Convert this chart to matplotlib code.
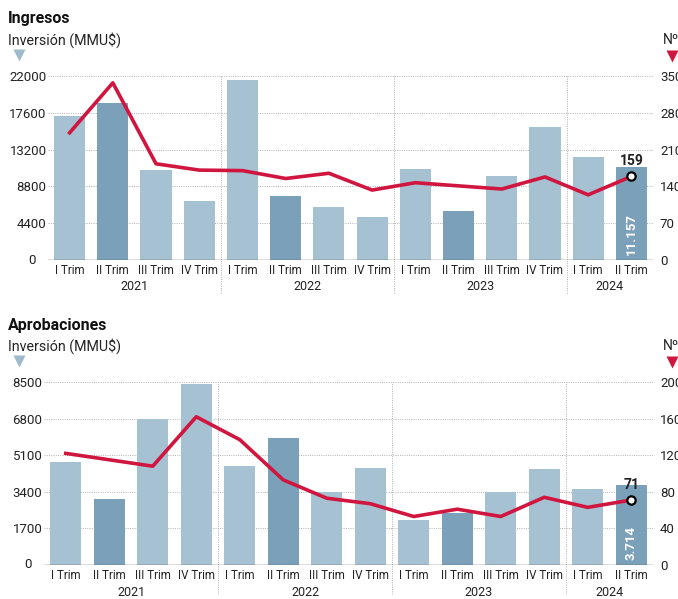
import numpy as np
import matplotlib
matplotlib.use("Agg")
import matplotlib.pyplot as plt
from matplotlib.lines import Line2D

plt.rcParams["font.family"] = ["Roboto", "DejaVu Sans"]

W, H = 678, 599
LIGHT = "#a6c1d1"; DARK = "#7ba0b9"; RED = "#d0163f"; GRID = "#a8a8a8"; TXT = "#222222"

quarters = ["I Trim", "II Trim", "III Trim", "IV Trim"] * 3 + ["I Trim", "II Trim"]
years = ["2021", "2022", "2023", "2024"]
year_centers = [1.5, 5.5, 9.5, 12.5]
year_breaks = [3.5, 7.5, 11.5]

ing_inv = [17200, 18800, 10800, 7000, 21500, 7700, 6300, 5200,
           10900, 5900, 10000, 15900, 12300, 11157]
ing_n = [242, 337, 183, 171, 170, 155, 165, 133, 147, 141, 135, 158, 124, 159]
ing_left_ticks = [0, 4400, 8800, 13200, 17600, 22000]
ing_right_ticks = [0, 70, 140, 210, 280, 350]

apr_inv = [4800, 3050, 6800, 8400, 4600, 5900, 3400, 4500,
           2100, 2400, 3400, 4450, 3550, 3714]
apr_n = [122, 115, 108, 162, 137, 93, 73, 67, 53, 61, 53, 74, 63, 71]
apr_left_ticks = [0, 1700, 3400, 5100, 6800, 8500]
apr_right_ticks = [0, 40, 80, 120, 160, 200]

fig = plt.figure(figsize=(W / 100, H / 100), dpi=100)


def px_axes(x0, x1, ytop, ybot):
    return fig.add_axes([x0 / W, 1 - ybot / H, (x1 - x0) / W, (ybot - ytop) / H])


def tri(x, y, color):
    fig.add_artist(Line2D([x / W], [1 - y / H], marker="v", ms=9, color=color,
                          mec="none", transform=fig.transFigure))


def panel(ax, inv, n, lticks, rticks, title, ty, bar_lbl, n_lbl, sep_ymin):
    x = np.arange(len(inv))
    colors = [DARK if q == "II Trim" else LIGHT for q in quarters]
    ax.bar(x, inv, width=0.72, color=colors, zorder=2)
    ax.set_xlim(-0.5, 13.5); ax.set_ylim(0, lticks[-1])
    ax.set_yticks(lticks[1:]); ax.set_yticklabels([str(t) for t in lticks[1:]])
    for t in lticks[1:]:
        ax.axhline(t, color=GRID, lw=0.6, ls=(0, (1.2, 1.5)), zorder=1)
    ax.axhline(0, color="#555555", lw=1.0, zorder=3)
    ax.text(-0.02, 0, "0", transform=ax.get_yaxis_transform(), ha="right", va="center",
            fontsize=9.5, color=TXT)
    ax.set_xticks(x); ax.set_xticklabels(quarters, fontsize=8.4, color=TXT)
    ax.tick_params(axis="x", length=0, pad=3)
    ax.tick_params(axis="y", length=0, pad=1, labelsize=9.5, labelcolor=TXT)
    for s in ax.spines.values():
        s.set_visible(False)
    for b in year_breaks:
        ax.axvline(b, ymin=sep_ymin, ymax=1, color=GRID, lw=0.6, ls=(0, (1.2, 1.5)),
                   clip_on=False, zorder=1)
    for yc, yr in zip(year_centers, years):
        ax.annotate(yr, (yc, 0), xycoords=("data", "axes fraction"), xytext=(0, -27),
                    textcoords="offset pixels", ha="center", va="center",
                    fontsize=9, color=TXT)
    ax.annotate(bar_lbl, (13, 0), xytext=(0, 5), textcoords="offset pixels",
                rotation=90, ha="center", va="bottom", color="white",
                fontsize=9.5, fontweight="bold", zorder=5)

    ax2 = ax.twinx()
    ax2.set_ylim(0, rticks[-1])
    ax2.plot(x, n, color=RED, lw=2.6, solid_joinstyle="round", zorder=4)
    ax2.plot([13], [n[-1]], "o", ms=6, mfc="white", mec="black", mew=1.6, zorder=5)
    ax2.annotate(n_lbl, (13, n[-1]), xytext=(0, 8), textcoords="offset pixels",
                 ha="center", va="bottom", fontsize=10, fontweight="bold", color=TXT)
    ax2.set_yticks(rticks); ax2.set_yticklabels([str(t) for t in rticks])
    ax2.tick_params(axis="y", length=0, pad=5, labelsize=9.5, labelcolor=TXT)
    for s in ax2.spines.values():
        s.set_visible(False)
    ax2.set_xlim(-0.5, 13.5)

    fig.text(8 / W, 1 - ty / H, title, fontsize=11.5, fontweight="bold", color="#111111",
             va="center")
    fig.text(8 / W, 1 - (ty + 21) / H, "Inversión (MMU$)", fontsize=10.3, color=TXT,
             va="center")
    tri(19, ty + 36, "#9ebacb")
    fig.text(663 / W, 1 - (ty + 21) / H, "Nº", fontsize=10, color=TXT, va="center")
    tri(672, ty + 37, RED)


ax_top = px_axes(48, 653, 76, 260)
panel(ax_top, ing_inv, ing_n, ing_left_ticks, ing_right_ticks, "Ingresos", 19,
      "11.157", "159", -0.18)

ax_bot = px_axes(44, 653, 382, 565)
panel(ax_bot, apr_inv, apr_n, apr_left_ticks, apr_right_ticks, "Aprobaciones", 325,
      "3.714", "71", -0.16)

fig.savefig("out.png", dpi=100)
